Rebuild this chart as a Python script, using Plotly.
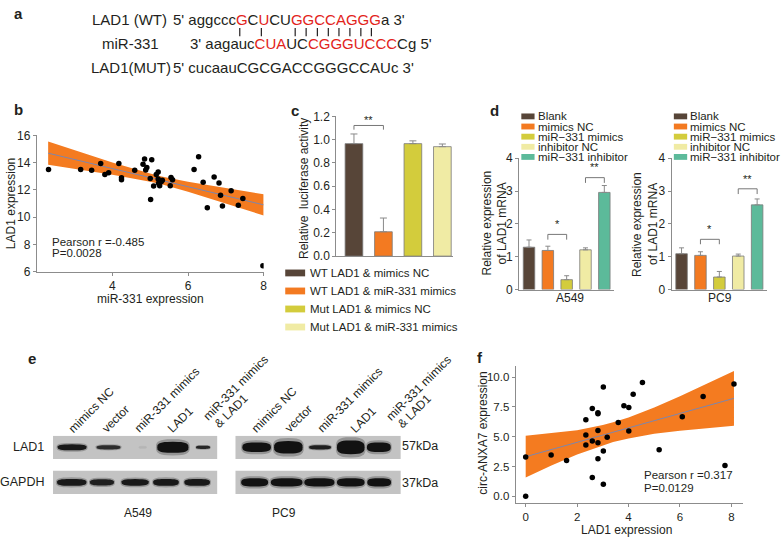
import math
import plotly.graph_objects as go

W, H = 783, 542
FONT = 'Arial, Liberation Sans, sans-serif'
INK = '#231f20'
AXIS = '#8c8c8c'
RED = '#e2231a'
ORANGE = '#f47b20'
FIT = '#7d86ad'

# ---- panel b : miR-331 vs LAD1 ----
b_x = [2.31, 3.16, 3.45, 3.69, 3.80, 3.90, 4.17, 4.24, 4.24, 4.59, 4.81, 4.85, 4.88, 4.91,
       5.04, 5.00, 5.01, 5.09, 5.16, 5.21, 5.21, 5.22, 5.25, 5.29, 5.32, 5.53, 5.55, 5.59,
       6.16, 6.28, 6.40, 6.51, 6.69, 6.82, 6.86, 6.91, 7.14, 7.33, 7.45, 7.98]
b_y = [13.50, 13.50, 13.43, 13.93, 13.12, 13.26, 13.93, 12.88, 12.74, 13.43, 13.88, 14.26, 13.45, 13.64,
       14.21, 12.83, 11.29, 12.29, 13.12, 13.31, 12.79, 12.48, 12.31, 12.60, 12.71, 12.31, 12.90, 12.74,
       13.50, 14.43, 12.55, 10.69, 12.95, 12.50, 11.60, 10.81, 11.93, 10.88, 11.36, 6.43]
b_band_x = [2.3, 3, 4, 5, 5.3, 6, 7, 8]
b_band_lo = [13.84, 13.54, 13.11, 12.59, 12.41, 11.87, 11.01, 10.12]
b_band_hi = [15.54, 14.90, 14.01, 13.19, 12.97, 12.59, 12.11, 11.68]
b_fit_x = [2.3, 8]
b_fit_y = [14.69, 10.90]

# ---- panel c : luciferase ----
c_groups = ['WT LAD1 & mimics NC', 'WT LAD1 & miR-331 mimics',
            'Mut LAD1 & mimics NC', 'Mut LAD1 & miR-331 mimics']
c_vals = [0.966, 0.209, 0.966, 0.940]
c_err = [0.083, 0.118, 0.024, 0.023]
c_colors = ['#574538', '#f37a21', '#d3cc3c', '#f0eba4']

# ---- panel d : qPCR ----
d_groups = ['Blank', 'mimics NC', 'miR\u2212331 mimics', 'inhibitor NC', 'miR\u2212331 inhibitor']
d_colors = ['#574538', '#f37a21', '#d3cc3c', '#f0eba4', '#5cba9a']
d_a549 = [1.29, 1.19, 0.30, 1.21, 2.96]
d_a549_err = [0.22, 0.13, 0.12, 0.06, 0.21]
d_pc9 = [1.09, 1.04, 0.38, 1.02, 2.58]
d_pc9_err = [0.18, 0.11, 0.17, 0.06, 0.18]

# ---- panel e : western blot bands (lane position, width, height, intensity) ----
e_lanes = ['mimics NC', 'vector', 'miR-331 mimics', 'LAD1', 'miR-331 mimics']
a549_lad1_x = [1.08, 2.19, 3.23, 4.15, 5.07]
a549_lad1_w = [0.91, 0.76, 0.25, 0.99, 0.45]
a549_lad1_h = [0.20, 0.14, 0.08, 0.37, 0.11]
a549_lad1_i = [0.95, 0.80, 0.06, 1.00, 0.85]
a549_gapdh_x = [1.07, 1.99, 3.00, 3.94, 4.89]
a549_gapdh_w = [0.93, 0.76, 0.86, 0.81, 0.81]
a549_gapdh_h = [0.23, 0.21, 0.22, 0.23, 0.23]
a549_gapdh_i = [0.95, 0.90, 0.95, 0.95, 0.95]
pc9_lad1_x = [1.14, 2.10, 3.06, 3.99, 4.84]
pc9_lad1_w = [0.90, 0.90, 0.69, 0.87, 0.75]
pc9_lad1_h = [0.32, 0.42, 0.14, 0.46, 0.32]
pc9_lad1_i = [1.00, 1.00, 0.90, 1.00, 1.00]
pc9_gapdh_x = [1.08, 2.05, 3.04, 3.99, 4.85]
pc9_gapdh_w = [0.85, 1.00, 0.95, 0.87, 0.75]
pc9_gapdh_h = [0.28, 0.28, 0.28, 0.28, 0.28]
pc9_gapdh_i = [1.00, 1.00, 1.00, 1.00, 1.00]

# ---- panel f : LAD1 vs circ-ANXA7 ----
f_x = [0, 0, 0.99, 1.59, 2.34, 2.34, 2.34, 2.59, 2.59, 2.59, 2.81, 2.81, 2.81, 2.81, 2.81,
       3.02, 3.02, 3.02, 3.17, 3.60, 3.82, 4.01, 4.01, 4.18, 4.54, 5.19, 6.09, 6.90, 7.75, 8.10]
f_y = [0, 3.30, 3.46, 3.00, 6.43, 5.15, 4.31, 7.36, 4.63, 1.58, 7.00, 6.92, 5.53, 4.50, 3.16,
       9.16, 3.81, 1.01, 4.96, 6.19, 7.60, 7.44, 5.48, 8.56, 9.54, 3.90, 6.68, 8.37, 2.59, 9.43]
f_band_x = [0, 1, 2, 3, 3.4, 4, 5, 6, 7, 8.1]
f_band_lo = [1.57, 2.58, 3.51, 4.29, 4.55, 4.86, 5.25, 5.50, 5.71, 5.92]
f_band_hi = [5.07, 5.28, 5.55, 5.99, 6.21, 6.62, 7.45, 8.40, 9.41, 10.52]
f_fit_x = [0, 8.1]
f_fit_y = [3.32, 8.22]


def fx(p):
    return p / W


def fy(p):
    return 1 - p / H


annotations = []
shapes = []


def note(text, x, y, size=12, xanchor='left', yanchor='middle', angle=0, bold=False,
         xref='paper', yref='paper', color=INK, align='left', xshift=0):
    if xref == 'paper':
        x = fx(x)
    if yref == 'paper':
        y = fy(y)
    if bold:
        text = '<b>' + text + '</b>'
    annotations.append(dict(text=text, x=x, y=y, xref=xref, yref=yref, xanchor=xanchor,
                            yanchor=yanchor, textangle=angle, showarrow=False, borderpad=0,
                            align=align, xshift=xshift, font=dict(family=FONT, size=size, color=color)))


def axis(domain, rng, **kw):
    d = dict(domain=domain, range=rng, showgrid=False, zeroline=False, showline=True,
             linecolor=AXIS, linewidth=1, ticks='outside', ticklen=3, tickcolor=AXIS,
             tickfont=dict(family=FONT, size=12, color=INK), fixedrange=True)
    d.update(kw)
    return d


def band_path(c, row, w, h, n=32, p=3.0):
    # rounded "pill" outline for a blot band, in data units of the blot axes
    pts = []
    for k in range(n):
        t = 2 * math.pi * k / n
        ct, st = math.cos(t), math.sin(t)
        x = c + w / 2 * math.copysign(abs(ct) ** (2 / p), ct)
        y = row + h / 2 * math.copysign(abs(st) ** (2 / p), st)
        pts.append('%.4f,%.4f' % (x, y))
    return 'M' + ' L'.join(pts) + ' Z'


fig = go.Figure()

# b
fig.add_trace(go.Scatter(x=b_band_x, y=b_band_lo, mode='lines', line=dict(width=0),
                         xaxis='x', yaxis='y', showlegend=False, hoverinfo='skip'))
fig.add_trace(go.Scatter(x=b_band_x, y=b_band_hi, mode='lines', line=dict(width=0), fill='tonexty',
                         fillcolor=ORANGE, xaxis='x', yaxis='y', showlegend=False, hoverinfo='skip'))
fig.add_trace(go.Scatter(x=b_fit_x, y=b_fit_y, mode='lines', line=dict(color=FIT, width=1),
                         xaxis='x', yaxis='y', showlegend=False))
fig.add_trace(go.Scatter(x=b_x, y=b_y, mode='markers', marker=dict(color='black', size=5.5),
                         xaxis='x', yaxis='y', showlegend=False))

# c
fig.add_trace(go.Bar(x=list(range(4)), y=c_vals, width=0.6, marker=dict(color=c_colors, line=dict(color='#7a7a7a', width=0.8)),
                     error_y=dict(type='data', symmetric=False, array=c_err, arrayminus=[0] * 4,
                                  color='#8a8a8a', thickness=1, width=3.5),
                     xaxis='x2', yaxis='y2', showlegend=False))
fig.add_trace(go.Scatter(x=[0, 0, 1, 1], y=[1.086, 1.122, 1.122, 1.086], mode='lines',
                         line=dict(color='#777', width=1), xaxis='x2', yaxis='y2', showlegend=False))
note('**', 0.5, 1.11, size=11, xanchor='center', yanchor='bottom', xref='x2', yref='y2')

# d
for vals, errs, xa, ya, br in [(d_a549, d_a549_err, 'x3', 'y3', [(1, 2, 1.52, 1.68, '*'), (3, 4, 3.25, 3.41, '**')]),
                               (d_pc9, d_pc9_err, 'x4', 'y4', [(1, 2, 1.38, 1.53, '*'), (3, 4, 2.91, 3.07, '**')])]:
    fig.add_trace(go.Bar(x=list(range(5)), y=vals, width=0.61,
                         marker=dict(color=d_colors, line=dict(color='#7a7a7a', width=0.8)),
                         error_y=dict(type='data', symmetric=False, array=errs, arrayminus=[0] * 5,
                                      color='#8a8a8a', thickness=1, width=2.5),
                         xaxis=xa, yaxis=ya, showlegend=False))
    for x0, x1, lo, hi, star in br:
        fig.add_trace(go.Scatter(x=[x0, x0, x1, x1], y=[lo, hi, hi, lo], mode='lines',
                                 line=dict(color='#777', width=1), xaxis=xa, yaxis=ya, showlegend=False))
        note(star, (x0 + x1) / 2, hi + 0.1, size=11, xanchor='center', yanchor='bottom', xref=xa, yref=ya)

# e blots
for xa, ya, rows in [('x5', 'y5', [(1, a549_lad1_x, a549_lad1_w, a549_lad1_h, a549_lad1_i),
                                   (0, a549_gapdh_x, a549_gapdh_w, a549_gapdh_h, a549_gapdh_i)]),
                     ('x6', 'y6', [(1, pc9_lad1_x, pc9_lad1_w, pc9_lad1_h, pc9_lad1_i),
                                   (0, pc9_gapdh_x, pc9_gapdh_w, pc9_gapdh_h, pc9_gapdh_i)])]:
    for row, xs, ws, hs, ints in rows:
        shapes.append(dict(type='rect', xref=xa + ' domain', yref=ya, x0=0, x1=1, y0=row - 1 / 3, y1=row + 1 / 3,
                           fillcolor='#c3c3c3', line=dict(width=0), layer='below'))
        for c, w, h, i in zip(xs, ws, hs, ints):
            shapes.append(dict(type='path', xref=xa, yref=ya, path=band_path(c, row, w * 1.04, h * 1.25),
                               fillcolor='rgba(60,60,60,%.2f)' % (0.35 * i), line=dict(width=0)))
            shapes.append(dict(type='path', xref=xa, yref=ya, path=band_path(c, row, w * 0.96, h * 0.85),
                               fillcolor='rgba(18,18,18,%.2f)' % i, line=dict(width=0)))
    fig.add_trace(go.Scatter(x=[1, 5], y=[0, 1], mode='markers', marker=dict(opacity=0),
                             xaxis=xa, yaxis=ya, showlegend=False, hoverinfo='skip'))

# f
fig.add_trace(go.Scatter(x=f_band_x, y=f_band_lo, mode='lines', line=dict(width=0),
                         xaxis='x7', yaxis='y7', showlegend=False, hoverinfo='skip'))
fig.add_trace(go.Scatter(x=f_band_x, y=f_band_hi, mode='lines', line=dict(width=0), fill='tonexty',
                         fillcolor=ORANGE, xaxis='x7', yaxis='y7', showlegend=False, hoverinfo='skip'))
fig.add_trace(go.Scatter(x=f_fit_x, y=f_fit_y, mode='lines', line=dict(color=FIT, width=1),
                         xaxis='x7', yaxis='y7', showlegend=False))
fig.add_trace(go.Scatter(x=f_x, y=f_y, mode='markers', marker=dict(color='black', size=5.5),
                         xaxis='x7', yaxis='y7', showlegend=False))

# ---- text: panel a ----
note('a', 13, 7, size=15, bold=True)
note('LAD1 (WT)', 91.7, 12.5, size=15)
note("5' aggccc<span style='color:%s'>G</span>C<span style='color:%s'>U</span>CU"
     "<span style='color:%s'>GGCCAGGG</span>a 3'" % (RED, RED, RED), 173.3, 12.5, size=15)
for bx in [241, 262.7, 296.7, 307.7, 319, 330, 340.7, 351.7, 362.7, 373.3]:
    shapes.append(dict(type='line', xref='paper', yref='paper', x0=fx(bx), x1=fx(bx),
                       y0=fy(21.5), y1=fy(30), line=dict(color=INK, width=1.2)))
note('miR-331', 101.7, 37, size=15)
note("3' aagauc<span style='color:%s'>CUA</span>UC<span style='color:%s'>CGGGUCCC</span>Cg 5'" % (RED, RED),
     190, 37, size=15)
note('LAD1(MUT)', 90, 62, size=15)
note("5' cucaauCGCGACCGGGCCAUc 3'", 173.3, 62, size=15)

# panel b text
note('b', 13, 105, size=15, bold=True)
note('LAD1 expression', 11.7, 201.7, angle=-90, xanchor='center', yanchor='middle')
note('miR-331 expression', 151.7, 299.5, xanchor='center')
note('Pearson r =-0.485', 51.7, 241, size=11.5)
note('P=0.0028', 51.7, 253, size=11.5)

# panel c text
note('c', 291, 106, size=15, bold=True)
note('Relative&nbsp; luciferase activity', 305.7, 186.7, angle=-90, xanchor='center')
for i, (g, col) in enumerate(zip(c_groups, c_colors)):
    yy = 273 + 18.5 * i
    shapes.append(dict(type='rect', xref='paper', yref='paper', x0=fx(286.7), x1=fx(306.7),
                       y0=fy(yy + 3.5), y1=fy(yy - 3.5), fillcolor=col, line=dict(width=0)))
    note(g, 310.7, yy, size=11.5)

# panel d text
note('d', 491.7, 106, size=15, bold=True)
for x0, x1, t, tx, ty in [(524, 537.3, 539.3, 489, 221.7), (677.3, 690.7, 693, 641, 223)]:
    for i, (g, col) in enumerate(zip(d_groups, d_colors)):
        yy = 112.3 + 10.4 * i
        shapes.append(dict(type='rect', xref='paper', yref='paper', x0=fx(x0), x1=fx(x1),
                           y0=fy(yy + 3), y1=fy(yy - 3), fillcolor=col, line=dict(width=0)))
        note(g, t, yy, size=11.5)
    note('Relative expression', tx, ty, angle=-90, xanchor='center')
    note('of LAD1 mRNA', tx + 16, ty, angle=-90, xanchor='center')
note('A549', 573.3, 298.5, xanchor='center')
note('PC9', 723.3, 298.5, xanchor='center')

# panel e text
note('e', 26.7, 361, size=15, bold=True)
lab_font = dict(family=FONT, size=12, color=INK)
for lane, lab in enumerate(e_lanes):
    for xa in ['x5', 'x6']:
        if lane < 4:
            annotations.append(dict(text=lab, x=lane + 1, y=fy(441), xref=xa, yref='paper', xanchor='left',
                                    yanchor='bottom', xshift=-5, textangle=-45, showarrow=False, borderpad=0,
                                    font=lab_font))
        else:
            annotations.append(dict(text=lab, x=lane + 1, y=fy(429), xref=xa, yref='paper', xanchor='left',
                                    yanchor='bottom', xshift=-2, textangle=-45, showarrow=False, borderpad=0,
                                    font=lab_font))
            annotations.append(dict(text='& LAD1', x=lane + 1, y=fy(436), xref=xa, yref='paper', xanchor='left',
                                    yanchor='bottom', xshift=9, textangle=-45, showarrow=False, borderpad=0,
                                    font=lab_font))
note('LAD1', 45, 452, size=12.5, xanchor='right')
note('GAPDH', 45, 488, size=12.5, xanchor='right')
note('57kDa', 403, 451, size=12.5)
note('37kDa', 403, 489, size=12.5)
note('A549', 138.3, 519.5, xanchor='center')
note('PC9', 285.7, 519.5, xanchor='center')

# panel f text
note('f', 478.3, 360, size=15, bold=True)
note('circ-ANXA7 expression', 485.5, 438, angle=-90, xanchor='center')
note('LAD1 expression', 630, 537, xanchor='center')
note('Pearson r =0.317', 646.7, 480, size=11.5)
note('P=0.0129', 646.7, 493.3, size=11.5)

noticks = dict(showticklabels=False, ticks='')
hidden = dict(visible=False, fixedrange=True)
fig.update_layout(
    width=W, height=H,
    margin=dict(l=0, r=0, t=0, b=0),
    paper_bgcolor='white', plot_bgcolor='rgba(0,0,0,0)',
    font=dict(family=FONT, color=INK),
    showlegend=False,
    xaxis=axis([fx(37), fx(265)], [2, 8], tickvals=[4, 6, 8], anchor='y'),
    yaxis=axis([fy(271.7), fy(131.7)], [6, 16], tickvals=[6, 8, 10, 12, 14, 16], anchor='x'),
    xaxis2=axis([fx(338), fx(455)], [-0.6, 3.35], anchor='y2', **noticks),
    yaxis2=axis([fy(255.7), fy(112.3)], [0, 1.2], tickvals=[0, 0.2, 0.4, 0.6, 0.8, 1.0, 1.2],
                tickformat='.1f', anchor='x2'),
    xaxis3=axis([fx(521.7), fx(616.7)], [-0.53, 4.49], anchor='y3', **noticks),
    yaxis3=axis([fy(290), fy(155.3)], [0, 4], tickvals=[0, 1, 2, 3, 4], anchor='x3'),
    xaxis4=axis([fx(675), fx(770.7)], [-0.53, 4.51], anchor='y4', **noticks),
    yaxis4=axis([fy(290), fy(155.3)], [0, 4], tickvals=[0, 1, 2, 3, 4], anchor='x4'),
    xaxis5=dict(domain=[fx(53.3), fx(218.3)], range=[0.5, 5.5], anchor='y5', **hidden),
    yaxis5=dict(domain=[fy(500), fy(440)], range=[-1 / 3, 4 / 3], anchor='x5', **hidden),
    xaxis6=dict(domain=[fx(236.7), fx(402.7)], range=[0.5, 5.5], anchor='y6', **hidden),
    yaxis6=dict(domain=[fy(500), fy(440)], range=[-1 / 3, 4 / 3], anchor='x6', **hidden),
    xaxis7=axis([fx(518.3), fx(747.3)], [-0.39, 8.47], tickvals=[0, 2, 4, 6, 8], anchor='y7',
                tickfont=dict(family=FONT, size=11.5, color=INK)),
    yaxis7=axis([fy(509), fy(368.3)], [-0.55, 10.95], tickvals=[0, 2.5, 5, 7.5, 10], tickformat='.1f',
                anchor='x7', tickfont=dict(family=FONT, size=11.5, color=INK)),
    annotations=annotations,
    shapes=shapes,
)

# drop the default 8px page margin so the figure sits at the window origin
fig.write_html("out.html", config={'displayModeBar': False},
               post_script="document.body.style.margin='0';")
